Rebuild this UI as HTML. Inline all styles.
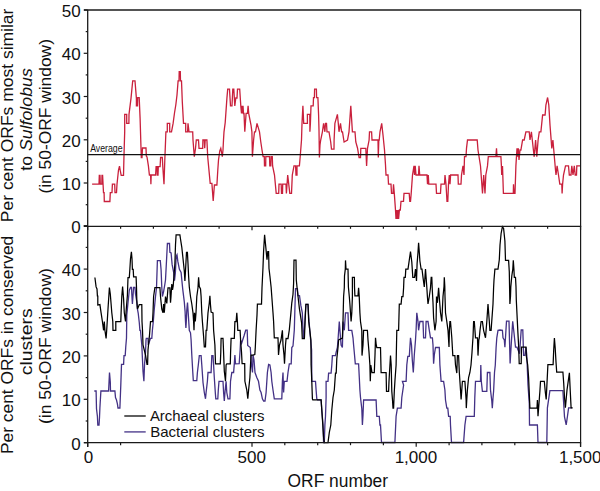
<!DOCTYPE html>
<html><head><meta charset="utf-8"><style>
html,body{margin:0;padding:0;background:#fff;}
svg{display:block;}
</style></head><body>
<svg width="600" height="491" viewBox="0 0 600 491" fill="#111">
<path d="M94.3,391.0 L96.1,391.0 L96.5,408.8 L97.4,416.3 L97.8,425.0 L99.0,425.0 L99.5,417.5 L99.9,408.0 L100.5,397.5 L100.9,391.0 L108.6,391.0 L109.5,372.5 L110.3,382.0 L110.5,391.0 L114.9,391.0 L115.5,397.5 L116.5,400.0 L117.4,403.8 L118.0,408.0 L119.9,408.0 L120.3,397.5 L120.8,385.0 L121.5,364.4 L123.6,364.4 L124.0,355.6 L125.2,355.6 L125.8,346.3 L126.5,338.0 L126.8,315.0 L128.0,302.8 L129.3,290.3 L130.5,287.5 L131.5,287.5 L131.8,294.0 L132.4,304.0 L133.0,296.0 L133.6,287.5 L135.0,287.5 L135.5,294.0 L136.5,300.0 L137.4,309.0 L138.2,313.0 L139.3,322.8 L139.9,330.3 L140.5,330.3 L141.1,337.8 L141.8,345.0 L142.5,360.0 L143.0,371.3 L143.9,381.3 L144.5,365.0 L145.5,352.5 L146.0,340.0 L146.3,338.4 L148.0,338.4 L148.3,345.0 L150.5,338.4 L151.8,338.4 L152.4,330.3 L153.3,321.5 L154.3,309.0 L155.5,296.5 L156.5,287.8 L157.4,260.6 L160.3,260.6 L161.1,270.0 L161.8,287.5 L162.4,296.5 L163.6,291.5 L164.9,284.0 L165.5,280.0 L166.1,268.5 L167.4,243.5 L169.5,243.5 L169.9,252.3 L171.1,252.9 L172.1,264.4 L173.7,272.5 L174.5,280.7 L175.4,272.5 L176.2,256.3 L177.0,254.7 L177.8,261.2 L179.4,269.3 L181.1,272.5 L181.9,280.7 L182.7,288.9 L184.3,301.9 L185.1,311.7 L185.5,321.5 L185.9,328.0 L186.3,321.5 L186.8,310.0 L187.5,302.5 L188.2,312.8 L189.3,330.3 L190.5,332.8 L191.1,340.0 L191.8,355.0 L192.8,372.5 L193.3,380.6 L196.8,380.6 L197.4,372.5 L198.3,365.0 L199.3,355.6 L201.1,355.6 L201.8,365.0 L203.0,382.5 L204.3,392.5 L205.5,398.8 L206.1,392.5 L207.4,381.3 L208.0,372.5 L211.1,372.5 L211.8,355.6 L213.0,355.6 L213.6,365.0 L214.3,377.5 L215.3,392.5 L215.8,398.8 L217.8,398.8 L218.3,390.0 L219.0,381.3 L223.0,381.3 L223.6,392.5 L224.3,401.0 L225.0,392.0 L226.1,381.3 L226.8,392.5 L228.0,398.8 L229.9,398.8 L230.5,381.3 L231.8,372.5 L233.6,372.5 L234.3,363.8 L234.9,355.0 L235.5,363.8 L239.2,363.7 L240.1,350.5 L240.6,340.3 L241.6,343.4 L242.6,340.3 L244.2,335.3 L245.7,330.2 L247.2,330.2 L247.7,345.4 L250.3,347.5 L250.8,355.6 L251.5,365.0 L252.5,372.5 L253.0,355.0 L254.0,360.0 L255.0,372.5 L256.8,377.5 L258.5,381.3 L259.9,390.0 L261.1,392.5 L262.4,398.8 L263.6,401.0 L265.0,401.0 L266.1,392.5 L267.4,372.5 L268.6,364.4 L269.9,365.0 L271.1,372.5 L271.8,381.3 L273.0,390.0 L274.3,398.8 L281.8,398.8 L282.4,381.3 L283.0,372.5 L283.6,392.5 L284.3,381.3 L287.0,381.3 L288.0,372.5 L289.3,363.8 L291.2,363.8 L291.8,347.5 L293.0,346.0 L294.3,330.0 L294.8,312.8 L295.5,288.6 L297.4,288.6 L298.0,295.7 L299.5,295.7 L300.9,305.7 L302.3,312.9 L303.0,330.0 L303.7,338.6 L304.4,330.0 L305.1,317.0 L305.9,304.3 L308.0,304.3 L308.7,317.0 L310.1,334.3 L311.6,350.0 L311.8,381.3 L315.5,381.3 L316.1,390.0 L316.8,398.8 L317.5,399.8 L321.1,399.8 L321.8,410.0 L323.0,425.0 L323.6,442.5 L324.3,442.5 L324.9,425.0 L325.5,416.3 L326.1,397.5 L326.1,381.3 L328.0,381.3 L328.6,373.1 L331.1,373.1 L331.8,365.0 L332.4,355.6 L335.5,355.6 L336.1,352.5 L337.4,347.5 L338.0,340.0 L339.3,321.5 L340.5,337.8 L341.1,345.0 L342.4,347.5 L343.0,321.5 L344.3,330.3 L345.5,312.8 L348.0,312.8 L348.6,330.3 L351.8,330.3 L353.0,337.8 L353.6,345.0 L354.3,352.5 L355.3,363.8 L358.6,363.8 L359.3,377.5 L359.9,390.0 L360.5,397.5 L361.8,408.8 L362.4,425.0 L363.0,415.0 L363.6,400.0 L376.1,399.8 L376.8,416.3 L379.3,416.3 L379.9,425.0 L380.5,425.0 L381.5,442.5 L394.9,442.5 L396.1,416.3 L397.4,408.1 L401.1,408.1 L401.8,397.5 L403.6,385.0 L402.4,381.3 L406.1,381.3 L406.8,365.0 L407.8,356.3 L409.3,356.3 L410.5,337.8 L411.5,345.0 L412.3,360.0 L413.3,372.5 L414.3,355.0 L415.5,340.0 L416.1,330.0 L416.8,312.8 L418.0,321.5 L418.6,330.3 L419.9,321.5 L423.0,321.5 L423.6,337.8 L425.5,337.8 L426.1,321.5 L428.0,321.5 L429.3,330.3 L430.5,337.8 L432.4,337.8 L433.0,345.0 L433.6,363.8 L434.3,355.0 L435.5,347.5 L439.3,347.5 L439.9,365.0 L441.1,381.3 L443.6,381.3 L444.9,390.0 L445.5,400.0 L446.8,408.1 L447.8,408.1 L448.6,416.3 L450.2,416.3 L450.5,425.0 L451.5,442.5 L463.6,442.5 L464.9,425.0 L466.1,416.3 L474.3,416.3 L474.8,397.5 L475.5,381.3 L480.5,381.3 L480.8,365.0 L481.3,381.3 L482.4,391.3 L486.8,391.3 L487.4,372.5 L489.9,372.5 L490.5,390.0 L491.8,401.0 L492.3,408.1 L493.0,398.0 L493.6,391.3 L494.5,372.5 L495.3,365.0 L496.1,347.5 L496.8,337.8 L498.0,330.3 L500.0,330.0 L502.4,330.3 L503.0,337.8 L504.3,340.0 L504.9,347.2 L506.5,321.2 L509.0,321.2 L510.1,363.5 L511.5,340.0 L512.7,321.2 L514.0,333.0 L515.5,347.2 L517.0,347.2 L519.5,353.7 L521.2,330.0 L522.8,330.0 L523.6,355.4 L525.0,355.4 L526.0,347.2 L526.8,355.4 L528.0,385.0 L529.3,403.8 L529.5,425.0 L537.4,425.0 L538.0,442.5 L546.8,442.5 L547.4,407.8 L549.9,390.7 L562.9,390.7 L563.7,403.8 L564.5,416.8 L566.2,424.9 L567.5,416.0 L568.6,407.8 L571.9,407.8" fill="none" stroke="#433185" stroke-width="1.3" stroke-linejoin="miter"/><path d="M94.9,277.5 L96.1,286.9 L97.0,289.0 L97.4,295.9 L97.8,296.0 L97.8,305.0 L99.9,304.6 L101.1,312.8 L102.4,321.5 L103.6,330.3 L104.3,321.5 L104.9,330.3 L106.1,338.4 L106.7,330.3 L108.0,309.0 L109.4,287.5 L110.3,294.0 L111.1,304.0 L111.8,312.8 L112.8,321.5 L113.0,330.3 L115.8,330.3 L115.8,321.5 L120.8,321.5 L121.1,312.8 L121.8,296.5 L122.6,286.5 L123.6,299.0 L124.3,312.8 L125.5,321.5 L126.1,311.5 L127.4,295.3 L128.0,277.5 L129.3,277.5 L129.9,268.8 L130.5,258.8 L131.4,251.9 L132.0,258.8 L132.4,269.4 L133.2,269.4 L133.6,276.9 L136.1,276.9 L136.5,287.5 L136.8,300.0 L137.5,309.0 L139.3,304.6 L141.8,304.6 L142.0,321.5 L142.5,330.3 L143.0,345.0 L145.5,355.0 L147.0,364.4 L147.6,364.4 L148.0,350.0 L149.5,335.0 L150.5,321.5 L152.5,321.5 L153.0,312.8 L153.6,296.5 L154.9,287.5 L159.9,287.5 L160.5,296.5 L161.8,309.0 L163.0,312.8 L163.6,304.0 L164.3,312.8 L165.5,296.5 L166.8,303.4 L168.0,287.8 L169.9,287.8 L170.5,302.8 L171.0,296.5 L171.8,284.0 L172.5,290.0 L173.2,286.0 L174.9,263.5 L175.5,244.8 L176.1,234.8 L179.9,234.8 L180.5,239.0 L181.8,247.3 L183.0,258.5 L184.3,271.0 L184.9,281.0 L185.5,271.0 L186.5,252.3 L187.4,252.3 L188.0,263.5 L188.6,276.0 L189.3,287.0 L190.5,296.5 L191.8,304.0 L193.0,312.8 L193.6,321.5 L194.0,330.3 L194.5,312.8 L195.3,321.5 L196.0,312.8 L196.8,296.5 L198.0,287.8 L198.6,277.3 L199.3,286.5 L200.5,289.0 L201.1,296.5 L201.8,312.8 L202.4,321.5 L203.6,336.5 L204.3,346.9 L205.5,346.9 L206.1,330.3 L206.8,330.3 L208.0,312.8 L209.3,302.8 L209.9,295.9 L210.5,305.0 L211.1,312.0 L213.0,312.8 L213.6,330.3 L214.9,345.0 L215.5,363.8 L220.3,363.8 L220.8,352.0 L221.1,338.4 L223.0,338.4 L223.3,345.0 L224.3,371.3 L225.5,381.3 L226.1,365.0 L226.8,363.8 L230.3,363.8 L230.6,352.0 L231.1,338.4 L234.3,338.4 L234.9,321.5 L236.1,321.5 L236.8,312.8 L237.4,321.5 L237.8,330.3 L240.1,330.3 L240.6,340.3 L241.5,352.0 L242.1,363.7 L244.7,363.7 L244.9,381.3 L246.8,390.0 L247.8,398.8 L248.6,390.0 L249.9,377.5 L250.5,365.0 L251.1,355.0 L253.0,355.0 L254.8,354.6 L255.3,347.5 L256.1,330.3 L257.0,315.0 L257.4,304.0 L261.5,304.0 L262.0,287.8 L263.0,267.3 L263.6,251.0 L264.6,234.8 L265.5,244.0 L267.0,259.8 L267.8,251.6 L268.6,251.6 L269.0,268.5 L269.9,276.0 L271.1,287.0 L271.8,296.5 L273.0,312.8 L273.6,321.5 L274.3,337.8 L278.0,337.8 L278.5,355.0 L279.5,345.0 L281.0,340.0 L282.4,330.3 L283.0,345.0 L284.0,355.0 L284.5,363.8 L285.5,345.0 L286.1,338.4 L288.0,338.6 L289.3,330.0 L290.9,312.9 L291.8,302.8 L293.0,294.3 L293.6,283.6 L294.0,260.2 L296.0,260.2 L296.3,280.0 L297.3,290.0 L299.4,308.6 L301.6,322.9 L302.3,338.6 L304.4,338.6 L305.1,321.4 L305.9,304.3 L308.0,304.3 L308.7,321.4 L310.0,332.0 L310.9,340.0 L311.1,365.0 L311.8,381.3 L312.4,398.8 L312.8,399.8 L321.1,399.8 L321.8,410.0 L322.8,425.0 L323.6,437.5 L324.3,442.5 L328.0,442.5 L329.3,432.5 L330.8,425.0 L331.8,410.0 L333.0,397.5 L334.3,390.0 L335.0,380.0 L335.5,373.1 L336.2,373.1 L336.8,358.8 L338.0,347.5 L338.6,340.0 L342.4,338.0 L343.0,321.5 L343.6,296.5 L344.3,287.8 L344.5,276.0 L345.3,269.1 L345.5,260.4 L346.0,269.0 L348.0,269.1 L348.4,287.0 L349.3,296.5 L349.9,304.0 L350.5,312.8 L351.1,321.5 L351.8,312.8 L352.4,296.5 L352.4,277.3 L354.4,277.3 L354.5,287.0 L354.9,295.9 L358.0,295.9 L358.6,287.8 L359.2,295.9 L359.9,312.8 L360.5,321.5 L361.8,330.3 L362.0,355.6 L363.0,345.0 L363.6,330.3 L367.4,330.3 L368.0,340.0 L369.0,352.0 L369.9,365.0 L370.3,381.3 L370.8,365.0 L372.0,372.5 L374.3,372.5 L375.0,355.0 L375.5,337.8 L376.1,343.8 L376.8,347.5 L380.5,347.5 L381.1,372.5 L386.1,372.5 L386.5,391.3 L388.6,391.3 L389.0,381.3 L389.5,372.5 L390.5,355.6 L391.2,365.0 L391.8,391.3 L392.5,400.0 L393.0,408.1 L393.6,408.1 L394.3,391.3 L395.0,380.0 L396.1,365.0 L396.5,345.0 L396.8,330.3 L398.6,330.3 L399.3,304.0 L401.1,304.0 L401.8,296.5 L403.0,296.5 L403.6,287.8 L404.0,277.3 L405.3,277.3 L405.8,269.1 L408.0,269.1 L410.5,251.6 L411.8,262.0 L412.8,277.3 L414.5,277.3 L415.5,269.1 L416.5,281.0 L417.1,263.5 L418.0,252.3 L418.6,242.9 L419.3,252.3 L419.9,261.0 L421.1,269.1 L422.0,269.1 L423.0,277.3 L424.3,287.0 L425.5,269.1 L426.8,287.0 L427.4,296.5 L428.0,304.0 L429.3,296.5 L430.5,287.8 L431.2,277.3 L431.8,277.3 L432.3,290.0 L433.0,302.8 L433.6,317.8 L434.9,330.3 L436.1,321.5 L436.5,296.5 L437.4,302.8 L438.6,287.8 L439.5,300.0 L440.5,312.8 L441.8,321.5 L443.0,296.5 L444.0,286.5 L444.3,277.3 L444.8,286.5 L445.0,296.5 L445.5,312.8 L446.8,321.5 L448.0,330.3 L449.0,346.9 L449.4,330.3 L449.9,321.5 L450.5,321.5 L451.8,337.8 L452.8,355.6 L454.9,355.6 L455.5,365.0 L456.8,373.1 L457.4,355.6 L458.6,355.6 L459.3,372.0 L460.5,390.0 L461.1,399.4 L462.4,381.3 L464.9,381.3 L466.1,399.4 L466.3,408.1 L466.8,399.4 L467.4,390.0 L468.6,377.5 L469.9,372.5 L471.0,365.0 L472.0,352.5 L472.8,340.0 L473.0,337.8 L473.6,321.5 L474.3,321.5 L475.5,337.8 L477.5,337.8 L478.0,355.6 L478.8,340.0 L479.3,337.8 L480.0,330.3 L481.1,321.5 L482.4,321.5 L483.6,330.3 L485.5,337.8 L486.8,321.5 L488.0,304.0 L489.3,321.5 L489.9,330.3 L491.1,330.3 L493.0,304.0 L493.6,287.8 L494.0,280.0 L494.9,269.1 L498.0,269.1 L499.3,259.8 L500.0,245.0 L501.1,233.5 L502.4,226.8 L503.6,228.5 L504.9,241.0 L505.5,260.4 L508.6,260.4 L509.3,272.0 L509.9,304.0 L510.5,296.5 L510.8,287.0 L511.8,276.0 L512.8,269.1 L513.3,260.4 L513.9,269.1 L514.3,277.3 L515.5,277.3 L516.0,287.0 L516.3,300.0 L517.9,332.6 L518.7,347.2 L519.2,363.5 L521.2,363.5 L521.5,347.2 L526.0,347.2 L526.3,356.0 L527.7,365.0 L528.6,377.5 L529.9,408.1 L537.0,408.1 L537.4,400.0 L538.0,416.3 L538.6,408.1 L539.9,391.3 L540.5,381.3 L544.3,381.3 L545.3,392.0 L546.2,399.5 L546.9,385.0 L547.9,364.7 L553.1,364.7 L553.7,350.0 L554.4,338.0 L555.2,348.0 L556.0,362.0 L556.7,372.0 L562.9,372.0 L563.7,383.0 L564.5,397.2 L565.4,407.8 L567.0,390.0 L569.4,372.8 L570.2,390.0 L571.1,407.8 L572.7,407.8" fill="none" stroke="#000" stroke-width="1.25"/><path d="M92.1,184.2 L99.0,184.2 L99.3,175.3 L100.0,175.3 L100.3,184.2 L101.8,184.2 L102.0,175.3 L102.6,175.3 L103.5,192.6 L104.1,192.6 L104.3,201.5 L109.9,201.5 L110.3,192.6 L112.0,192.6 L112.4,184.2 L114.7,184.2 L115.0,192.6 L116.5,192.6 L117.0,184.2 L118.5,170.0 L119.5,166.2 L120.5,172.0 L121.2,175.3 L123.5,175.3 L124.0,155.0 L124.7,131.8 L124.7,114.3 L126.7,114.3 L126.7,123.4 L128.9,123.4 L129.0,114.3 L131.0,98.4 L132.7,80.9 L135.0,80.9 L136.4,98.4 L136.4,105.9 L137.5,105.9 L137.7,97.6 L139.2,97.6 L140.1,118.4 L141.0,148.0 L141.3,157.5 L142.0,157.5 L142.5,148.0 L146.0,148.0 L146.3,156.0 L147.0,157.0 L148.4,165.9 L149.4,175.0 L150.6,175.0 L150.9,184.2 L151.2,175.0 L155.6,175.0 L156.1,166.7 L157.0,166.7 L157.3,175.0 L158.0,175.0 L158.3,166.7 L160.1,166.7 L160.6,157.5 L162.3,157.5 L162.8,166.7 L164.0,184.2 L164.8,160.0 L165.6,140.0 L165.9,131.8 L167.3,131.8 L167.3,123.4 L169.7,123.4 L169.7,131.8 L171.5,131.8 L173.1,123.4 L174.5,113.0 L175.8,105.0 L177.0,95.0 L178.1,80.9 L179.0,80.9 L179.2,71.7 L180.3,71.7 L180.5,80.9 L181.5,80.9 L182.3,101.7 L183.5,123.4 L185.7,123.4 L185.7,131.8 L187.6,131.8 L188.0,123.4 L189.0,131.8 L192.7,131.8 L193.0,140.0 L194.3,156.7 L195.5,148.3 L196.3,140.0 L198.5,140.0 L199.0,148.3 L202.7,148.3 L202.9,140.0 L204.3,140.0 L204.7,148.3 L205.2,140.0 L206.9,140.0 L207.7,156.7 L210.2,183.4 L211.9,183.4 L213.2,201.0 L214.4,185.0 L216.9,185.0 L217.8,170.0 L218.5,160.0 L219.8,151.0 L220.8,148.3 L221.5,152.0 L222.3,156.7 L223.0,150.0 L223.5,140.0 L224.0,131.8 L225.2,122.6 L226.9,98.4 L227.7,89.2 L229.5,89.2 L230.5,105.9 L232.0,105.9 L232.8,89.2 L233.8,89.2 L234.8,105.9 L235.8,98.0 L237.0,98.0 L237.5,89.2 L239.7,89.2 L240.8,105.9 L241.5,113.5 L242.0,105.9 L242.5,113.5 L243.0,105.9 L243.5,113.5 L244.0,113.5 L244.8,131.8 L246.1,113.4 L247.5,113.4 L248.1,105.9 L248.7,113.4 L251.0,125.0 L251.9,131.8 L252.4,156.7 L253.6,140.0 L254.5,131.8 L255.5,131.8 L257.0,123.4 L259.5,131.8 L260.8,142.0 L262.0,150.0 L263.1,156.7 L264.3,156.7 L264.5,165.9 L265.7,165.9 L265.8,156.7 L269.5,156.7 L269.8,165.9 L270.8,165.9 L271.1,156.7 L272.3,156.7 L272.6,165.9 L274.5,175.0 L276.2,193.4 L278.7,193.4 L279.0,184.2 L281.2,184.2 L281.5,193.4 L282.5,193.4 L282.7,184.2 L286.0,184.2 L286.4,193.4 L287.7,175.0 L289.8,193.4 L291.5,193.4 L292.3,175.0 L294.0,165.9 L295.6,165.9 L296.0,175.0 L297.0,175.0 L297.0,165.9 L299.4,165.9 L300.2,156.7 L301.5,140.0 L302.0,123.4 L302.9,105.9 L303.7,123.4 L307.4,123.4 L307.4,114.3 L309.8,114.3 L309.9,131.8 L310.4,123.4 L311.0,105.9 L313.2,105.9 L313.5,97.6 L314.4,97.6 L314.6,89.2 L316.4,89.2 L316.6,97.6 L317.9,97.6 L318.6,115.0 L319.0,130.0 L319.4,157.5 L320.0,145.0 L320.7,140.0 L322.4,131.8 L323.6,123.4 L324.9,131.8 L325.5,123.4 L326.5,123.4 L327.0,131.8 L329.0,131.8 L330.7,142.0 L331.5,149.2 L334.0,149.2 L334.1,140.0 L334.9,123.4 L337.4,114.3 L338.3,123.4 L339.0,131.8 L340.5,123.4 L341.6,131.8 L342.5,131.8 L344.1,142.0 L347.5,140.0 L349.0,131.8 L350.8,105.9 L352.4,131.8 L355.0,131.8 L355.8,142.0 L357.5,148.0 L359.1,157.5 L360.5,157.5 L360.8,148.3 L365.8,148.3 L366.6,165.9 L367.5,148.3 L369.1,140.0 L369.5,131.8 L371.6,131.8 L372.0,140.0 L378.0,140.0 L378.3,157.5 L378.8,140.0 L379.2,140.0 L380.0,131.8 L381.7,123.4 L383.0,135.0 L384.5,150.0 L385.5,165.0 L386.0,175.0 L388.0,175.0 L388.5,184.2 L391.0,184.2 L391.5,193.4 L393.0,193.4 L393.5,184.2 L394.3,193.4 L395.5,210.0 L396.0,219.0 L396.6,210.0 L397.2,219.0 L398.0,210.0 L398.6,219.0 L399.4,210.0 L400.3,210.0 L401.0,201.3 L403.5,201.3 L404.0,193.4 L409.2,193.4 L409.8,201.3 L410.5,201.3 L411.2,193.4 L412.5,175.0 L414.0,165.9 L414.5,175.0 L415.2,165.9 L416.0,175.0 L418.5,175.0 L419.0,165.9 L419.7,175.0 L427.0,175.0 L427.5,184.2 L428.3,175.0 L428.8,184.2 L436.0,184.2 L436.5,193.4 L440.5,193.4 L441.0,184.2 L444.5,184.2 L445.0,175.0 L446.0,184.2 L447.0,201.3 L447.8,201.3 L448.5,184.2 L449.3,175.0 L450.0,184.2 L450.6,175.0 L458.0,175.0 L458.3,184.2 L461.0,184.2 L461.5,175.0 L463.0,165.9 L464.0,175.0 L464.5,156.7 L466.0,156.7 L466.5,148.3 L467.5,140.0 L470.0,140.0 L477.2,140.0 L478.0,150.0 L480.5,166.0 L482.5,193.4 L483.7,175.0 L485.0,193.4 L485.8,175.0 L487.5,165.9 L488.3,156.7 L495.9,156.7 L496.5,148.3 L497.0,156.7 L500.9,156.7 L501.4,165.9 L501.7,175.0 L502.5,165.9 L503.4,193.4 L513.3,193.4 L513.5,184.2 L514.0,193.4 L515.0,193.4 L515.9,165.9 L517.0,148.3 L517.5,156.7 L518.3,148.3 L519.0,160.0 L520.0,150.0 L520.9,150.0 L522.6,140.0 L524.2,140.0 L525.9,131.8 L529.2,131.8 L530.0,140.0 L531.4,131.8 L533.4,150.0 L534.2,156.8 L535.6,140.0 L536.8,156.8 L538.1,140.0 L539.3,131.8 L540.9,131.8 L542.6,115.0 L545.1,115.0 L545.9,105.0 L547.6,97.5 L548.8,105.0 L550.0,125.0 L551.8,148.4 L552.9,140.0 L554.8,162.0 L555.5,170.0 L556.0,175.0 L557.1,165.9 L558.5,175.0 L559.8,184.2 L561.8,184.2 L562.1,193.4 L562.6,184.2 L563.5,175.0 L565.5,165.9 L568.5,165.9 L569.3,175.0 L571.0,175.0 L571.8,165.9 L573.0,175.0 L574.3,165.9 L575.2,175.0 L576.5,175.0 L576.8,165.9 L580.0,165.9" fill="none" stroke="#c9203c" stroke-width="1.3"/>
<line x1="84" y1="10" x2="581.2" y2="10" stroke="#1a1a1a" stroke-width="1.3"/><line x1="580.6" y1="10" x2="580.6" y2="447" stroke="#1a1a1a" stroke-width="1.2"/><line x1="87.7" y1="10" x2="87.7" y2="447" stroke="#1a1a1a" stroke-width="1.3"/><line x1="84" y1="226.3" x2="581.2" y2="226.3" stroke="#1a1a1a" stroke-width="1.3"/><line x1="84" y1="442.7" x2="581.2" y2="442.7" stroke="#1a1a1a" stroke-width="1.3"/><line x1="83.7" y1="226.3" x2="87.7" y2="226.3" stroke="#1a1a1a" stroke-width="1.2"/><line x1="83.7" y1="442.7" x2="87.7" y2="442.7" stroke="#1a1a1a" stroke-width="1.2"/><line x1="85.7" y1="204.7" x2="87.7" y2="204.7" stroke="#1a1a1a" stroke-width="1.2"/><line x1="85.7" y1="421.0" x2="87.7" y2="421.0" stroke="#1a1a1a" stroke-width="1.2"/><line x1="83.7" y1="183.0" x2="87.7" y2="183.0" stroke="#1a1a1a" stroke-width="1.2"/><line x1="83.7" y1="399.3" x2="87.7" y2="399.3" stroke="#1a1a1a" stroke-width="1.2"/><line x1="85.7" y1="161.4" x2="87.7" y2="161.4" stroke="#1a1a1a" stroke-width="1.2"/><line x1="85.7" y1="377.6" x2="87.7" y2="377.6" stroke="#1a1a1a" stroke-width="1.2"/><line x1="83.7" y1="139.8" x2="87.7" y2="139.8" stroke="#1a1a1a" stroke-width="1.2"/><line x1="83.7" y1="355.9" x2="87.7" y2="355.9" stroke="#1a1a1a" stroke-width="1.2"/><line x1="85.7" y1="118.2" x2="87.7" y2="118.2" stroke="#1a1a1a" stroke-width="1.2"/><line x1="85.7" y1="334.2" x2="87.7" y2="334.2" stroke="#1a1a1a" stroke-width="1.2"/><line x1="83.7" y1="96.5" x2="87.7" y2="96.5" stroke="#1a1a1a" stroke-width="1.2"/><line x1="83.7" y1="312.5" x2="87.7" y2="312.5" stroke="#1a1a1a" stroke-width="1.2"/><line x1="85.7" y1="74.9" x2="87.7" y2="74.9" stroke="#1a1a1a" stroke-width="1.2"/><line x1="85.7" y1="290.8" x2="87.7" y2="290.8" stroke="#1a1a1a" stroke-width="1.2"/><line x1="83.7" y1="53.3" x2="87.7" y2="53.3" stroke="#1a1a1a" stroke-width="1.2"/><line x1="83.7" y1="269.1" x2="87.7" y2="269.1" stroke="#1a1a1a" stroke-width="1.2"/><line x1="85.7" y1="31.6" x2="87.7" y2="31.6" stroke="#1a1a1a" stroke-width="1.2"/><line x1="85.7" y1="247.4" x2="87.7" y2="247.4" stroke="#1a1a1a" stroke-width="1.2"/><line x1="83.7" y1="10.0" x2="87.7" y2="10.0" stroke="#1a1a1a" stroke-width="1.2"/><line x1="83.7" y1="225.7" x2="87.7" y2="225.7" stroke="#1a1a1a" stroke-width="1.2"/><line x1="87.7" y1="226.3" x2="87.7" y2="230.3" stroke="#1a1a1a" stroke-width="1.2"/><line x1="87.7" y1="442.7" x2="87.7" y2="446.7" stroke="#1a1a1a" stroke-width="1.2"/><line x1="120.6" y1="226.3" x2="120.6" y2="228.8" stroke="#1a1a1a" stroke-width="1.2"/><line x1="120.6" y1="442.7" x2="120.6" y2="445.2" stroke="#1a1a1a" stroke-width="1.2"/><line x1="153.4" y1="226.3" x2="153.4" y2="228.8" stroke="#1a1a1a" stroke-width="1.2"/><line x1="186.3" y1="226.3" x2="186.3" y2="228.8" stroke="#1a1a1a" stroke-width="1.2"/><line x1="219.1" y1="226.3" x2="219.1" y2="228.8" stroke="#1a1a1a" stroke-width="1.2"/><line x1="252.0" y1="226.3" x2="252.0" y2="230.3" stroke="#1a1a1a" stroke-width="1.2"/><line x1="252.0" y1="442.7" x2="252.0" y2="446.7" stroke="#1a1a1a" stroke-width="1.2"/><line x1="284.8" y1="226.3" x2="284.8" y2="228.8" stroke="#1a1a1a" stroke-width="1.2"/><line x1="284.8" y1="442.7" x2="284.8" y2="445.2" stroke="#1a1a1a" stroke-width="1.2"/><line x1="317.7" y1="226.3" x2="317.7" y2="228.8" stroke="#1a1a1a" stroke-width="1.2"/><line x1="317.7" y1="442.7" x2="317.7" y2="445.2" stroke="#1a1a1a" stroke-width="1.2"/><line x1="350.5" y1="226.3" x2="350.5" y2="228.8" stroke="#1a1a1a" stroke-width="1.2"/><line x1="350.5" y1="442.7" x2="350.5" y2="445.2" stroke="#1a1a1a" stroke-width="1.2"/><line x1="383.4" y1="226.3" x2="383.4" y2="228.8" stroke="#1a1a1a" stroke-width="1.2"/><line x1="383.4" y1="442.7" x2="383.4" y2="445.2" stroke="#1a1a1a" stroke-width="1.2"/><line x1="416.2" y1="226.3" x2="416.2" y2="230.3" stroke="#1a1a1a" stroke-width="1.2"/><line x1="416.2" y1="442.7" x2="416.2" y2="446.7" stroke="#1a1a1a" stroke-width="1.2"/><line x1="449.1" y1="226.3" x2="449.1" y2="228.8" stroke="#1a1a1a" stroke-width="1.2"/><line x1="449.1" y1="442.7" x2="449.1" y2="445.2" stroke="#1a1a1a" stroke-width="1.2"/><line x1="481.9" y1="226.3" x2="481.9" y2="228.8" stroke="#1a1a1a" stroke-width="1.2"/><line x1="481.9" y1="442.7" x2="481.9" y2="445.2" stroke="#1a1a1a" stroke-width="1.2"/><line x1="514.8" y1="226.3" x2="514.8" y2="228.8" stroke="#1a1a1a" stroke-width="1.2"/><line x1="514.8" y1="442.7" x2="514.8" y2="445.2" stroke="#1a1a1a" stroke-width="1.2"/><line x1="547.6" y1="226.3" x2="547.6" y2="228.8" stroke="#1a1a1a" stroke-width="1.2"/><line x1="547.6" y1="442.7" x2="547.6" y2="445.2" stroke="#1a1a1a" stroke-width="1.2"/><line x1="580.5" y1="226.3" x2="580.5" y2="230.3" stroke="#1a1a1a" stroke-width="1.2"/><line x1="580.5" y1="442.7" x2="580.5" y2="446.7" stroke="#1a1a1a" stroke-width="1.2"/><text x="80.6" y="233.3" text-anchor="end" font-size="17" font-family="Liberation Sans, sans-serif">0</text><text x="80.6" y="449.7" text-anchor="end" font-size="17" font-family="Liberation Sans, sans-serif">0</text><text x="80.6" y="190.0" text-anchor="end" font-size="17" font-family="Liberation Sans, sans-serif">10</text><text x="80.6" y="406.3" text-anchor="end" font-size="17" font-family="Liberation Sans, sans-serif">10</text><text x="80.6" y="146.8" text-anchor="end" font-size="17" font-family="Liberation Sans, sans-serif">20</text><text x="80.6" y="362.9" text-anchor="end" font-size="17" font-family="Liberation Sans, sans-serif">20</text><text x="80.6" y="103.5" text-anchor="end" font-size="17" font-family="Liberation Sans, sans-serif">30</text><text x="80.6" y="319.5" text-anchor="end" font-size="17" font-family="Liberation Sans, sans-serif">30</text><text x="80.6" y="60.3" text-anchor="end" font-size="17" font-family="Liberation Sans, sans-serif">40</text><text x="80.6" y="276.1" text-anchor="end" font-size="17" font-family="Liberation Sans, sans-serif">40</text><text x="80.6" y="17.0" text-anchor="end" font-size="17" font-family="Liberation Sans, sans-serif">50</text><text x="88.4" y="462.6" text-anchor="middle" font-size="17" font-family="Liberation Sans, sans-serif">0</text><text x="251.7" y="462.6" text-anchor="middle" font-size="17" font-family="Liberation Sans, sans-serif">500</text><text x="415.9" y="462.6" text-anchor="middle" font-size="17" font-family="Liberation Sans, sans-serif">1,000</text><text x="580.2" y="462.6" text-anchor="middle" font-size="17" font-family="Liberation Sans, sans-serif">1,500</text><text x="337.8" y="487.4" text-anchor="middle" font-size="17.5" textLength="100.5" lengthAdjust="spacingAndGlyphs" font-family="Liberation Sans, sans-serif">ORF number</text><text transform="translate(13.3,115.4) rotate(-90)" x="0" y="0" text-anchor="middle" font-size="17.3" textLength="213.5" lengthAdjust="spacingAndGlyphs" font-family="Liberation Sans, sans-serif">Per cent ORFs most similar</text><text transform="translate(31.6,119.5) rotate(-90)" x="0" y="0" text-anchor="middle" font-size="17.3" textLength="102.5" lengthAdjust="spacingAndGlyphs" font-family="Liberation Sans, sans-serif">to <tspan font-style="italic">Sulfolobus</tspan></text><text transform="translate(50.6,116.3) rotate(-90)" x="0" y="0" text-anchor="middle" font-size="17.3" textLength="154.5" lengthAdjust="spacingAndGlyphs" font-family="Liberation Sans, sans-serif">(in 50-ORF window)</text><text transform="translate(13.3,344.9) rotate(-90)" x="0" y="0" text-anchor="middle" font-size="17.3" textLength="218.3" lengthAdjust="spacingAndGlyphs" font-family="Liberation Sans, sans-serif">Per cent ORFs in conserved</text><text transform="translate(31.6,341.8) rotate(-90)" x="0" y="0" text-anchor="middle" font-size="17.3" textLength="67.0" lengthAdjust="spacingAndGlyphs" font-family="Liberation Sans, sans-serif">clusters</text><text transform="translate(50.6,346.1) rotate(-90)" x="0" y="0" text-anchor="middle" font-size="17.3" textLength="156.0" lengthAdjust="spacingAndGlyphs" font-family="Liberation Sans, sans-serif">(in 50-ORF window)</text><line x1="87.7" y1="154.6" x2="580.6" y2="154.6" stroke="#111" stroke-width="1.3"/><text x="90.2" y="152.0" font-size="10.3" textLength="32.4" lengthAdjust="spacingAndGlyphs" font-family="Liberation Sans, sans-serif">Average</text><line x1="124.3" y1="416.0" x2="145.7" y2="416.0" stroke="#2a2a2a" stroke-width="1.5"/><line x1="124.3" y1="431.9" x2="145.7" y2="431.9" stroke="#5c4c96" stroke-width="1.5"/><text x="149.9" y="421.0" font-size="14.8" textLength="114.6" lengthAdjust="spacingAndGlyphs" font-family="Liberation Sans, sans-serif">Archaeal clusters</text><text x="150.2" y="436.8" font-size="14.8" textLength="114.4" lengthAdjust="spacingAndGlyphs" font-family="Liberation Sans, sans-serif">Bacterial clusters</text>
</svg>
</body></html>
